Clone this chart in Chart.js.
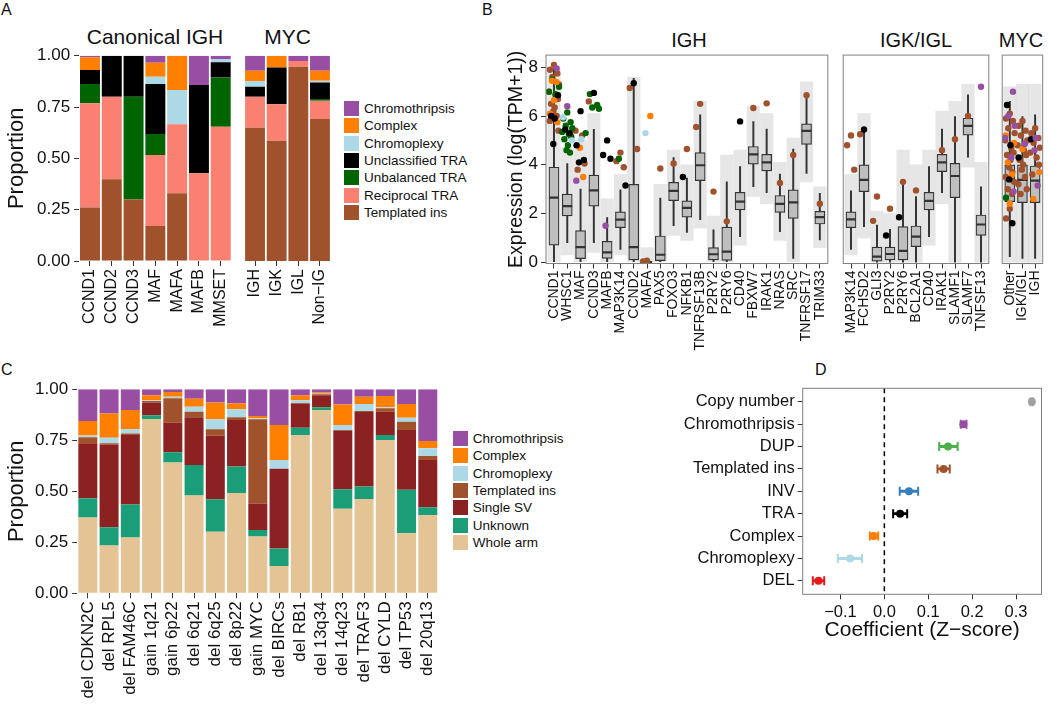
<!DOCTYPE html>
<html>
<head>
<meta charset="utf-8">
<script src="https://cdn.jsdelivr.net/npm/chart.js@4.4.1/dist/chart.umd.min.js"></script>
<style>
  body { margin: 0; background: #fff; width: 1050px; height: 708px; overflow: hidden; position: relative;
         font-family: "Liberation Sans", Arial, sans-serif; color: #111; }
  canvas { position: absolute; }
  .txt { position: absolute; white-space: nowrap; line-height: 1; }
  .letter { font-size: 16px; }
  .strip { transform: translate(-50%, -50%); }
  .legend { position: absolute; font-size: 13.5px; }
  .legend .row { height: 17.3px; display: flex; align-items: center; }
  .legend .key { width: 15px; height: 15px; margin-right: 5px; }
</style>
</head>
<body>
<div class="txt letter" style="left:1px;top:2px">A</div>
<div class="txt letter" style="left:482px;top:2px">B</div>
<div class="txt letter" style="left:1px;top:362px">C</div>
<div class="txt letter" style="left:815px;top:362px">D</div>

<div class="txt strip" style="left:155px;top:36px;font-size:21px">Canonical IGH</div>
<div class="txt strip" style="left:287.5px;top:36px;font-size:21px">MYC</div>
<div class="txt strip" style="left:689px;top:40px;font-size:20px">IGH</div>
<div class="txt strip" style="left:916px;top:40px;font-size:20px">IGK/IGL</div>
<div class="txt strip" style="left:1021px;top:40px;font-size:20px">MYC</div>

<div class="legend" id="legendA" style="left:344px;top:100px"></div>
<div class="legend" id="legendC" style="left:452.7px;top:430px"></div>

<script>
// ---------- Panel A: SV class proportions by partner ----------
const aClasses = ['Templated ins', 'Reciprocal TRA', 'Unbalanced TRA', 'Unclassified TRA', 'Chromoplexy', 'Complex', 'Chromothripsis'];
const aColors = ['#A0522D', '#FA8072', '#006400', '#000000', '#ADD8E6', '#FF7F00', '#984EA3'];
const aIghCats = ['CCND1', 'CCND2', 'CCND3', 'MAF', 'MAFA', 'MAFB', 'MMSET'];
const aIghProps = [
  [0.260, 0.508, 0.094, 0.068, 0.000, 0.062, 0.008],
  [0.398, 0.402, 0.000, 0.200, 0.000, 0.000, 0.000],
  [0.300, 0.000, 0.500, 0.200, 0.000, 0.000, 0.000],
  [0.170, 0.346, 0.102, 0.244, 0.036, 0.068, 0.034],
  [0.330, 0.336, 0.000, 0.000, 0.167, 0.167, 0.000],
  [0.000, 0.427, 0.000, 0.430, 0.000, 0.000, 0.143],
  [0.000, 0.654, 0.240, 0.074, 0.016, 0.000, 0.016]
];
const aMycCats = ['IGH', 'IGK', 'IGL', 'Non\u2212IG'];
const aMycProps = [
  [0.649, 0.151, 0.000, 0.049, 0.028, 0.050, 0.073],
  [0.586, 0.177, 0.000, 0.179, 0.000, 0.058, 0.000],
  [0.946, 0.028, 0.000, 0.000, 0.000, 0.000, 0.026],
  [0.692, 0.089, 0.008, 0.080, 0.009, 0.049, 0.073]
];
const propTicks = [0, 0.25, 0.5, 0.75, 1];

// ---------- Panel B: expression boxplots ----------
const bYTicks = [0, 2, 4, 6, 8];
const bIghGenes = ['CCND1', 'WHSC1', 'MAF', 'CCND3', 'MAFB', 'MAP3K14', 'CCND2', 'MAFA', 'PAX5', 'FOXO3', 'NFKB1',
  'TNFRSF13B', 'P2RY2', 'P2RY6', 'CD40', 'FBXW7', 'IRAK1', 'NRAS', 'SRC', 'TNFRSF17', 'TRIM33'];
// whisker low, q1, median, q3, whisker high
const bIghBox = [
  [0, 0.70, 2.65, 3.90, 7.95], [0.80, 1.90, 2.30, 2.80, 4.05], [0, 0.15, 0.62, 1.30, 3.00],
  [0.80, 2.30, 2.95, 3.58, 5.45], [0, 0.16, 0.41, 0.86, 1.83], [0.53, 1.42, 1.75, 2.07, 2.97],
  [0, 0.10, 0.62, 3.20, 7.55], [0, 0, 0.01, 0.04, 0.08], [0, 0.07, 0.31, 1.08, 2.63],
  [1.50, 2.53, 2.93, 3.28, 4.30], [1.22, 1.85, 2.23, 2.52, 3.45], [1.75, 3.35, 3.98, 4.50, 6.05],
  [0, 0.10, 0.33, 0.60, 1.33], [0, 0.08, 0.44, 1.44, 3.30], [1.05, 2.15, 2.49, 2.87, 3.93],
  [3.10, 4.03, 4.43, 4.75, 5.77], [2.86, 3.75, 4.10, 4.43, 5.46], [1.26, 2.05, 2.40, 2.74, 3.62],
  [0.16, 1.80, 2.46, 2.97, 4.64], [3.65, 4.84, 5.39, 5.68, 6.73], [0.92, 1.57, 1.85, 2.09, 2.83]
];
// extent of the grey cloud of all samples
const bIghCloud = [
  [0, 8.0], [0.3, 4.7], [0, 5.0], [0.4, 6.1], [0, 2.6], [0.3, 3.6], [0, 7.6], [0, 0.6], [0, 3.2], [1.1, 4.6], [0.9, 4.0],
  [1.4, 6.6], [0, 1.9], [0, 4.4], [0.7, 4.6], [2.7, 6.4], [2.4, 6.1], [0.9, 4.1], [0, 5.1], [3.3, 7.4], [0.6, 3.1]
];
// [gene index, SV class, expression values]
const bIghPts = [
  [0, 'ti', [8.1, 7.9, 7.75, 7.6, 7.3, 7.0, 6.85, 6.7, 6.5, 6.35, 6.2, 6.0, 5.8, 5.4]],
  [0, 'cx', [7.45, 7.4, 6.65, 6.1, 5.75]],
  [0, 'ub', [7.5, 7.2, 7.0, 6.9]],
  [0, 'un', [6.85, 6.0, 5.9, 4.85]],
  [0, 'ct', [7.95]],
  [1, 'ub', [6.15, 5.9, 5.75, 5.6, 5.5, 5.35, 5.25, 5.15, 5.05, 4.8, 4.6, 4.5]],
  [1, 'cp', [5.95, 5.0]],
  [1, 'un', [5.45, 5.3]],
  [1, 'ct', [6.4]],
  [2, 'un', [6.2, 4.8, 4.2, 4.1]],
  [2, 'ub', [5.3]],
  [2, 'ti', [5.4, 5.2, 4.05, 3.8]],
  [2, 'cp', [5.05]],
  [2, 'cx', [4.7, 3.5]],
  [2, 'ct', [3.35]],
  [3, 'un', [6.95]],
  [3, 'ub', [6.9, 6.45, 6.35, 6.3]],
  [3, 'ti', [6.6]],
  [4, 'un', [5.0, 4.4, 4.25]],
  [4, 'ct', [1.5]],
  [5, 'ti', [4.5, 4.15, 3.9]],
  [5, 'ub', [4.25]],
  [5, 'un', [3.15]],
  [6, 'un', [7.35]],
  [6, 'ti', [7.15, 4.65]],
  [7, 'ti', [0.06, 0.03]],
  [7, 'cx', [6.0]],
  [7, 'cp', [5.3]],
  [8, 'ti', [3.85]], [9, 'ti', [4.05]], [10, 'ti', [4.65]], [10, 'un', [3.5]],
  [11, 'ti', [6.5, 5.55]], [12, 'ti', [2.9]], [13, 'ti', [1.68]], [14, 'un', [5.78]],
  [15, 'ti', [6.33]], [16, 'ti', [6.52]], [17, 'ti', [3.25]], [18, 'ti', [4.4]],
  [19, 'ti', [6.85]], [20, 'ti', [2.4]]
];

const bIgkGenes = ['MAP3K14', 'FCHSD2', 'GLI3', 'P2RY2', 'P2RY6', 'BCL2A1', 'CD40', 'IRAK1', 'SLAMF1', 'SLAMF7', 'TNFSF13'];
const bIgkBox = [
  [0.53, 1.42, 1.76, 2.07, 2.93], [1.46, 2.90, 3.38, 4.00, 5.46], [0, 0.05, 0.23, 0.62, 1.53],
  [0, 0.10, 0.34, 0.62, 1.35], [0, 0.10, 0.47, 1.46, 3.38], [0, 0.64, 1.05, 1.49, 2.70],
  [1.05, 2.15, 2.52, 2.87, 3.93], [2.86, 3.72, 4.10, 4.43, 5.46], [0, 2.65, 3.54, 4.06, 5.98],
  [4.31, 5.22, 5.60, 5.91, 6.87], [0, 1.10, 1.55, 1.94, 3.10]
];
const bIgkCloud = [
  [0.3, 3.6], [1.0, 6.1], [0, 2.1], [0, 2.0], [0, 4.6], [0, 4.0], [0.7, 4.6], [2.4, 6.2], [0, 6.6], [3.9, 7.3], [0, 4.1]
];
const bIgkPts = [
  [0, 'ti', [5.2, 4.8, 3.8]], [1, 'un', [5.45]], [1, 'ti', [5.25]], [2, 'ti', [2.7, 1.7]],
  [3, 'ti', [2.2]], [3, 'un', [1.1]], [4, 'ti', [3.3]], [4, 'un', [1.85]], [5, 'ti', [2.95]],
  [7, 'ti', [4.6]], [8, 'ti', [5.05]], [9, 'ti', [6.0]], [10, 'ct', [7.2]]
];

const bMycGroups = ['Other', 'IGK/IGL', 'IGH'];
const bMycBox = [[0.23, 2.49, 3.40, 4.00, 6.60], [0.16, 2.45, 3.38, 4.00, 5.98], [0.16, 2.45, 3.35, 3.95, 6.05]];
const bMycCloud = [[0, 7.2], [0, 7.3], [0, 7.3]];
const bMycPts = [
  [0, 'ti', [6.1, 5.9, 5.8, 5.5, 5.3, 5.0, 4.7, 4.5, 4.4, 4.2, 3.9, 3.7, 3.5, 3.3, 3.0, 2.8, 2.2, 1.8]],
  [0, 'ct', [7.0, 6.0, 5.6, 5.1, 4.3, 2.9]],
  [0, 'un', [6.45, 4.8, 3.4, 1.6]],
  [0, 'cx', [5.2, 4.9, 4.1, 3.6, 2.4]],
  [0, 'ub', [2.65]],
  [1, 'ti', [5.8, 5.6, 5.4, 5.2, 5.0, 4.8, 4.6, 4.4, 4.2, 4.0, 3.8, 3.5, 3.2, 3.0, 2.8]],
  [1, 'ct', [4.85]], [1, 'cx', [4.65]], [1, 'un', [4.3]],
  [2, 'ti', [5.5, 5.3, 5.1, 4.9, 4.7, 4.5, 4.3, 4.0, 3.6]],
  [2, 'ct', [5.1, 4.6, 3.15]], [2, 'un', [5.05]], [2, 'cx', [3.7, 2.6]]
];
const bClassColors = { ct: '#984EA3', cp: '#ADD8E6', un: '#000000', cx: '#FF7F00', ub: '#006400', ti: '#A0522D' };

// ---------- Panel C: driver event classes ----------
const cClasses = ['Whole arm', 'Unknown', 'Single SV', 'Templated ins', 'Chromoplexy', 'Complex', 'Chromothripsis'];
const cColors = ['#E4C494', '#1B9E77', '#8B2121', '#A0522D', '#ADD8E6', '#FF7F00', '#984EA3'];
const cCats = ['del CDKN2C', 'del RPL5', 'del FAM46C', 'gain 1q21', 'gain 6p22', 'del 6q21', 'del 6q25', 'del 8p22',
  'gain MYC', 'del BIRCs', 'del RB1', 'del 13q34', 'del 14q23', 'del TRAF3', 'del CYLD', 'del TP53', 'del 20q13'];
const cProps = [
  [0.371, 0.095, 0.269, 0.030, 0.008, 0.072, 0.155],
  [0.234, 0.090, 0.406, 0.005, 0.028, 0.118, 0.119],
  [0.273, 0.162, 0.341, 0.007, 0.021, 0.095, 0.101],
  [0.855, 0.018, 0.062, 0.008, 0.003, 0.025, 0.029],
  [0.641, 0.050, 0.146, 0.119, 0.008, 0.023, 0.013],
  [0.479, 0.150, 0.234, 0.027, 0.025, 0.039, 0.046],
  [0.302, 0.159, 0.312, 0.031, 0.049, 0.082, 0.065],
  [0.492, 0.129, 0.229, 0.013, 0.039, 0.028, 0.070],
  [0.278, 0.032, 0.130, 0.413, 0.005, 0.011, 0.131],
  [0.134, 0.085, 0.392, 0.000, 0.043, 0.171, 0.175],
  [0.776, 0.036, 0.119, 0.002, 0.013, 0.023, 0.031],
  [0.899, 0.013, 0.059, 0.005, 0.002, 0.006, 0.016],
  [0.415, 0.095, 0.287, 0.004, 0.024, 0.100, 0.075],
  [0.462, 0.061, 0.366, 0.005, 0.034, 0.036, 0.036],
  [0.752, 0.024, 0.114, 0.017, 0.005, 0.055, 0.033],
  [0.294, 0.213, 0.294, 0.040, 0.020, 0.067, 0.072],
  [0.384, 0.038, 0.232, 0.019, 0.038, 0.036, 0.253]
];

// ---------- Panel D: regression coefficients ----------
const dTerms = ['Copy number', 'Chromothripsis', 'DUP', 'Templated ins', 'INV', 'TRA', 'Complex', 'Chromoplexy', 'DEL'];
const dEstimate = [0.336, 0.180, 0.145, 0.135, 0.056, 0.036, -0.024, -0.078, -0.150];
const dLower = [0.333, 0.174, 0.125, 0.121, 0.035, 0.020, -0.033, -0.106, -0.163];
const dUpper = [0.339, 0.187, 0.167, 0.149, 0.077, 0.052, -0.014, -0.051, -0.137];
const dTicks = [-0.1, 0, 0.1, 0.2, 0.3];
const dColors = ['#A0A0A0', '#984EA3', '#4DAF4A', '#A0522D', '#377EB8', '#000000', '#FF7F00', '#ADD8E6', '#E41A1C'];

// small sideways offsets so overlapping points stay visible
const jit = [0, -0.3, 0.25, -0.12, 0.38, -0.38, 0.12, 0.3, -0.22, 0.05, -0.05, 0.2, -0.32, 0.34, -0.15, 0.18];

Chart.defaults.font.family = '"Liberation Sans", Arial, sans-serif';
Chart.defaults.color = '#111';
Chart.defaults.animation = false;
Chart.defaults.plugins.legend.display = false;
Chart.defaults.plugins.tooltip.enabled = false;

function canvasAt(left, top, w, h) {
  const c = document.createElement('canvas');
  c.width = w; c.height = h;
  c.style.left = left + 'px'; c.style.top = top + 'px';
  c.style.width = w + 'px'; c.style.height = h + 'px';
  document.body.appendChild(c);
  return c;
}
// fixed axis sizes, and no extra room asked for the end labels, so the plot areas land where ggplot put them
const fixW = w => s => { s.width = w; s.paddingTop = 0; s.paddingBottom = 0; };
const fixH = h => s => { s.height = h; s.paddingLeft = 0; s.paddingRight = 0; };
const tickGrid = () => ({ display: true, drawOnChartArea: false, drawTicks: true, tickLength: 5, color: '#333', lineWidth: 1, offset: false });

function frame(color) {
  return {
    id: 'frame',
    afterDraw(chart) {
      const { ctx, chartArea: a } = chart;
      ctx.save();
      ctx.strokeStyle = color;
      ctx.lineWidth = 1;
      ctx.strokeRect(a.left, a.top, a.right - a.left, a.bottom - a.top);
      ctx.restore();
    }
  };
}

function buildLegend(id, names, colors) {
  const el = document.getElementById(id);
  for (let k = names.length - 1; k >= 0; k--) {
    const row = document.createElement('div');
    row.className = 'row';
    row.innerHTML = '<div class="key" style="background:' + colors[k] + '"></div><span>' + names[k] + '</span>';
    el.appendChild(row);
  }
}

// stacked proportion bars (panels A and C)
function propChart(canvas, cats, props, classes, colors, o) {
  return new Chart(canvas, {
    type: 'bar',
    data: {
      labels: cats,
      datasets: classes.map((name, k) => ({
        label: name,
        data: props.map(r => r[k]),
        backgroundColor: colors[k],
        borderWidth: 0
      }))
    },
    options: {
      responsive: false,
      layout: { padding: o.pad },
      datasets: { bar: { barPercentage: o.barPct, categoryPercentage: 1 } },
      scales: {
        x: {
          stacked: true, grid: tickGrid(), border: { display: false },
          ticks: { autoSkip: false, minRotation: 90, maxRotation: 90, font: { size: o.xFont }, padding: 3 },
          afterFit: fixH(o.xH)
        },
        y: {
          stacked: true, min: 0, max: 1, display: o.showY,
          afterBuildTicks: s => { s.ticks = propTicks.map(v => ({ value: v })); },
          ticks: { callback: v => v.toFixed(2), font: { size: 17 }, padding: 4 },
          grid: tickGrid(), border: { display: false },
          title: { display: true, text: 'Proportion', font: { size: 22 }, padding: { top: 4, bottom: 0 } },
          afterFit: fixW(o.yW || 0)
        }
      }
    }
  });
}

function pointData(pts, cls) {
  const seen = {};
  const out = [];
  pts.forEach(([g, c, vals]) => {
    vals.forEach(v => {
      const n = seen[g] || 0;
      seen[g] = n + 1;
      if (c === cls) out.push({ x: g + jit[n % jit.length], y: v });
    });
  });
  return out;
}

// box plots over a grey sample cloud (panel B)
function exprChart(canvas, genes, box, cloud, pts, o) {
  const classes = ['ct', 'cp', 'un', 'cx', 'ub', 'ti'];
  return new Chart(canvas, {
    type: 'scatter',
    data: {
      datasets: [
        ...classes.map(c => ({
          type: 'scatter', data: pointData(pts, c), order: 1,
          pointRadius: 3.2, pointBackgroundColor: bClassColors[c], pointBorderWidth: 0
        })),
        { type: 'scatter', data: box.map((r, i) => ({ x: i, y: r[2] })), order: 2,
          pointStyle: 'line', pointRadius: 5, pointBorderColor: '#333', pointBorderWidth: 2.2 },
        { type: 'bar', data: box.map((r, i) => ({ x: i, y: [r[1], r[3]] })), order: 3, grouped: false,
          backgroundColor: '#BEBEBE', borderColor: '#333', borderWidth: 1.2, borderSkipped: false, barThickness: 10 },
        { type: 'bar', data: box.map((r, i) => ({ x: i, y: [r[0], r[4]] })), order: 4, grouped: false,
          backgroundColor: '#333', barThickness: 1.3 },
        { type: 'bar', data: cloud.map((r, i) => ({ x: i, y: r })), order: 5, grouped: false,
          backgroundColor: 'rgba(185,185,185,0.36)', barThickness: 12.5 }
      ]
    },
    options: {
      responsive: false,
      layout: { padding: o.pad },
      scales: {
        x: {
          type: 'linear', min: -0.6, max: genes.length - 0.4, offset: false,
          afterBuildTicks: s => { s.ticks = genes.map((_, i) => ({ value: i })); },
          ticks: { autoSkip: false, minRotation: 90, maxRotation: 90, font: { size: 14 }, padding: 2,
                   callback: v => genes[Math.round(v)] },
          grid: tickGrid(), border: { display: false },
          afterFit: fixH(106.5)
        },
        y: {
          type: 'linear', min: -0.05, max: 8.5, display: o.showY,
          afterBuildTicks: s => { s.ticks = bYTicks.map(v => ({ value: v })); },
          ticks: { font: { size: 17 }, padding: 3, callback: v => String(v) },
          grid: tickGrid(), border: { display: false },
          title: { display: true, text: 'Expression (log(TPM+1))', font: { size: 19.5 }, padding: { top: 15, bottom: 0 } },
          afterFit: fixW(o.yW || 0)
        }
      }
    },
    plugins: [frame('#808080')]
  });
}

// ---------- draw ----------
buildLegend('legendA', aClasses, aColors);
buildLegend('legendC', cClasses, cColors);

propChart(canvasAt(0, 40, 240, 300), aIghCats, aIghProps, aClasses, aColors,
  { pad: { top: 15.7, right: 8.4, left: 0, bottom: 0 }, barPct: 0.917, xFont: 16, xH: 79, showY: true, yW: 79.1 });
propChart(canvasAt(236, 40, 100, 300), aMycCats, aMycProps, aClasses, aColors,
  { pad: { top: 15.7, right: 5.2, left: 8.2, bottom: 0 }, barPct: 0.917, xFont: 16, xH: 79, showY: false });

exprChart(canvasAt(490, 40, 345, 330), bIghGenes, bIghBox, bIghCloud, bIghPts,
  { pad: { top: 15.1, right: 3, left: 0, bottom: 0 }, showY: true, yW: 56 });
exprChart(canvasAt(836, 40, 160, 330), bIgkGenes, bIgkBox, bIgkCloud, bIgkPts,
  { pad: { top: 15.1, right: 4.3, left: 4.7, bottom: 0 }, showY: false });
exprChart(canvasAt(995, 40, 55, 330), bMycGroups, bMycBox, bMycCloud, bMycPts,
  { pad: { top: 15.1, right: 7.3, left: 4.7, bottom: 0 }, showY: false });

propChart(canvasAt(0, 370, 445, 340), cCats, cProps, cClasses, cColors,
  { pad: { top: 19.3, right: 6.6, left: 0, bottom: 0 }, barPct: 0.894, xFont: 17, xH: 116.7, showY: true, yW: 77.2 });

const zeroLine = {
  id: 'zeroLine',
  beforeDatasetsDraw(chart) {
    const { ctx, chartArea: a, scales: { x } } = chart;
    const px = x.getPixelForValue(0);
    ctx.save();
    ctx.strokeStyle = '#000';
    ctx.lineWidth = 1.5;
    ctx.setLineDash([5, 4]);
    ctx.beginPath();
    ctx.moveTo(px, a.top);
    ctx.lineTo(px, a.bottom);
    ctx.stroke();
    ctx.restore();
  }
};

new Chart(canvasAt(590, 370, 458, 273), {
  type: 'scatter',
  data: {
    datasets: [
      { type: 'scatter', data: dEstimate.map((v, i) => ({ x: v, y: i })), order: 1,
        pointRadius: 4, pointBackgroundColor: dColors, pointBorderWidth: 0 },
      { type: 'scatter', data: dLower.map((v, i) => ({ x: v, y: i })), order: 2,
        pointStyle: 'line', pointRotation: 90, pointRadius: 4.5, pointBorderColor: dColors, pointBorderWidth: 2 },
      { type: 'scatter', data: dUpper.map((v, i) => ({ x: v, y: i })), order: 2,
        pointStyle: 'line', pointRotation: 90, pointRadius: 4.5, pointBorderColor: dColors, pointBorderWidth: 2 },
      { type: 'bar', indexAxis: 'y', grouped: false, order: 3,
        data: dLower.map((v, i) => ({ x: [v, dUpper[i]], y: i })),
        backgroundColor: dColors, barThickness: 2.2 }
    ]
  },
  options: {
    responsive: false,
    layout: { padding: { top: 18.3, right: 5, left: 0, bottom: 0 } },
    scales: {
      x: {
        type: 'linear', min: -0.186, max: 0.358, offset: false,
        afterBuildTicks: s => { s.ticks = dTicks.map(v => ({ value: v })); },
        ticks: { font: { size: 16.5 }, padding: 3,
                 callback: v => v === 0 ? '0.0' : (v < 0 ? '\u2212' : '') + Math.abs(v).toFixed(1) },
        grid: tickGrid(), border: { display: false },
        title: { display: true, text: 'Coefficient (Z\u2212score)', font: { size: 21 }, padding: { top: 0, bottom: 0 } },
        afterFit: fixH(48.7)
      },
      y: {
        type: 'linear', reverse: true, min: -0.6, max: 8.6, offset: false,
        afterBuildTicks: s => { s.ticks = dTerms.map((_, i) => ({ value: i })); },
        ticks: { font: { size: 16.5 }, padding: 3, callback: v => dTerms[Math.round(v)] },
        grid: tickGrid(), border: { display: false },
        afterFit: fixW(212.7)
      }
    }
  },
  plugins: [zeroLine, frame('#808080')]
});
</script>
</body>
</html>
